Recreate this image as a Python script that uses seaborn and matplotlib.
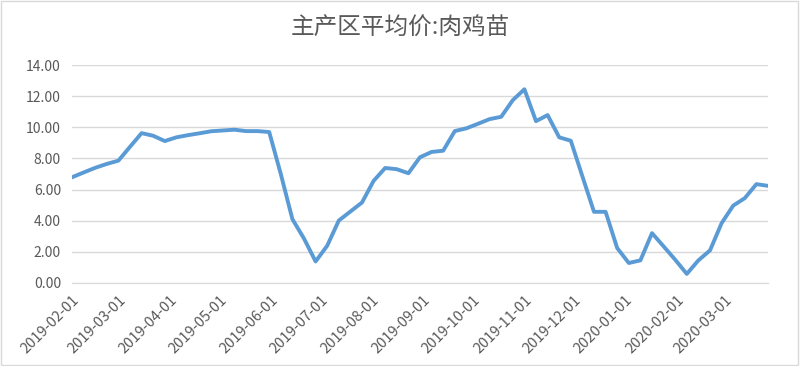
import pandas as pd
import matplotlib.pyplot as plt
import seaborn as sns

TITLE = '主产区平均价:肉鸡苗'
START_DATE = '2019-02-01'
# weekly observations
PRICES = [6.79, 7.10, 7.40, 7.65, 7.86, 8.75, 9.63, 9.46, 9.12, 9.36,
          9.50, 9.62, 9.75, 9.80, 9.85, 9.76, 9.76, 9.70, 7.00, 4.10,
          2.85, 1.38, 2.39, 4.01, 4.59, 5.17, 6.56, 7.39, 7.31, 7.05,
          8.08, 8.42, 8.50, 9.76, 9.94, 10.23, 10.53, 10.68, 11.75, 12.45,
          10.40, 10.79, 9.36, 9.14, 6.85, 4.57, 4.57, 2.24, 1.28, 1.45,
          3.20, 2.35, 1.49, 0.58, 1.45, 2.09, 3.84, 4.97, 5.45, 6.35,
          6.24]
TICK_MONTHS = ['2019-02-01', '2019-03-01', '2019-04-01', '2019-05-01', '2019-06-01',
               '2019-07-01', '2019-08-01', '2019-09-01', '2019-10-01', '2019-11-01',
               '2019-12-01', '2020-01-01', '2020-02-01', '2020-03-01']
Y_TICKS = [0, 2, 4, 6, 8, 10, 12, 14]

LINE_COLOR = '#5B9BD5'
TEXT_COLOR = '#595959'
GRID_COLOR = '#D9D9D9'

sns.set_style('white')
plt.rcParams['font.family'] = ['Noto Sans CJK SC', 'DejaVu Sans']

df = pd.DataFrame({'date': pd.date_range(START_DATE, periods=len(PRICES), freq='7D'),
                   'price': PRICES})

fig = plt.figure(figsize=(8, 3.66), dpi=100)
ax = fig.add_axes([0.09, 0.227, 0.87, 0.595])

sns.lineplot(data=df, x='date', y='price', ax=ax, color=LINE_COLOR, linewidth=2.8)

ax.set_xlim(df['date'].iloc[0], df['date'].iloc[-1])
ax.set_ylim(0, 14)
ax.set_yticks(Y_TICKS)
ax.set_yticklabels([f'{v:.2f}' for v in Y_TICKS], color=TEXT_COLOR, fontsize=10)
ticks = pd.to_datetime(TICK_MONTHS)
ax.set_xticks(ticks)
ax.set_xticklabels(TICK_MONTHS, rotation=45, ha='right', rotation_mode='anchor',
                   color=TEXT_COLOR, fontsize=10.5)
ax.tick_params(axis='x', length=4, color=GRID_COLOR, width=1, pad=3)
ax.tick_params(axis='y', length=0, pad=8)
ax.set_xlabel('')
ax.set_ylabel('')

ax.grid(axis='y', color=GRID_COLOR, linewidth=1)
for side in ['top', 'right', 'left']:
    ax.spines[side].set_visible(False)
ax.spines['bottom'].set_color(GRID_COLOR)

fig.suptitle(TITLE, y=0.955, fontsize=17, color=TEXT_COLOR)
fig.patches.append(plt.Rectangle((0.001, 0.002), 0.997, 0.995, transform=fig.transFigure,
                                 fill=False, edgecolor=GRID_COLOR, linewidth=1))

fig.savefig('out.png', dpi=100)
